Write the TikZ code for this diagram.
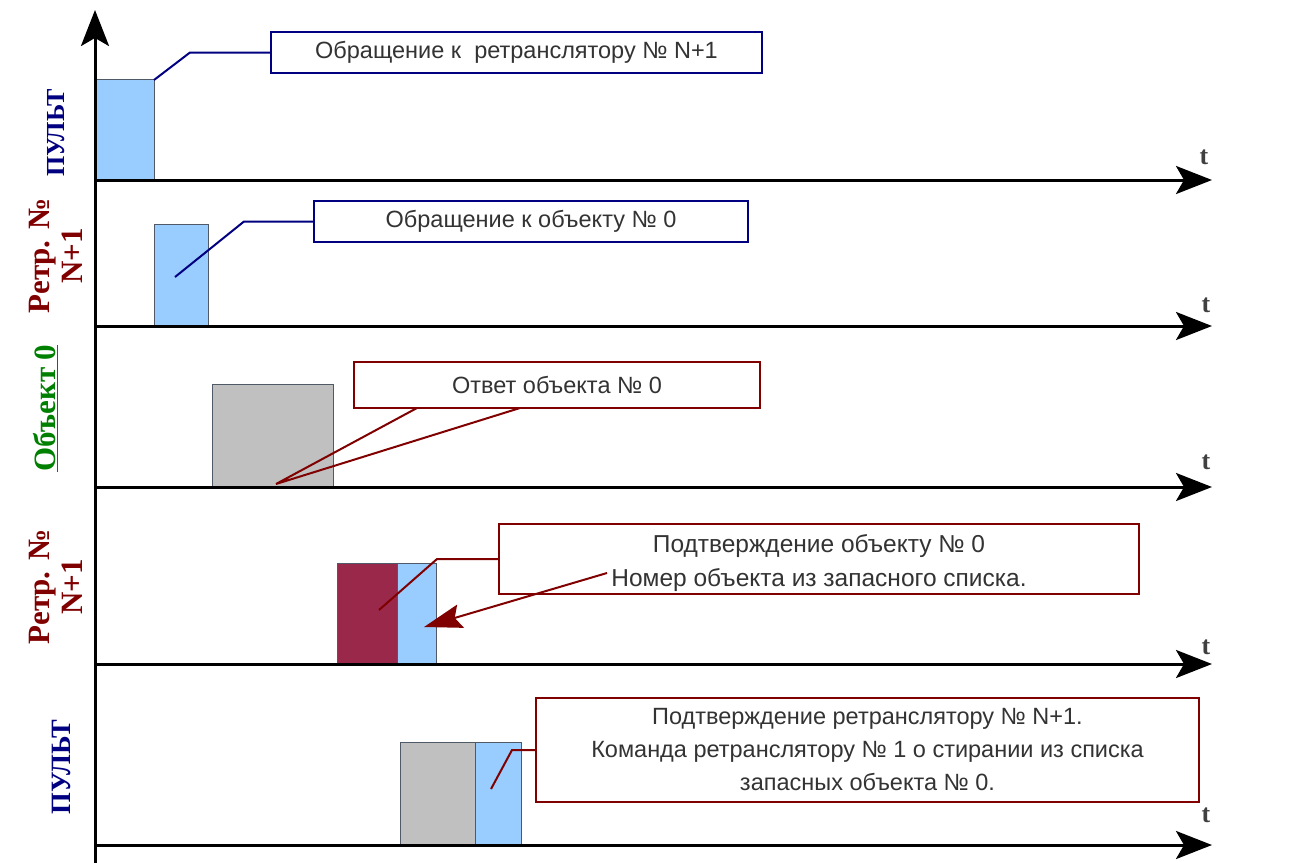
\documentclass[tikz,border=0pt]{standalone}
\usepackage{fontspec}
\setmainfont{Liberation Serif}
\setsansfont{Liberation Sans}
\usetikzlibrary{arrows.meta}
\definecolor{navyc}{HTML}{000080}
\definecolor{dredc}{HTML}{800000}
\definecolor{lbluec}{HTML}{99CCFF}
\definecolor{lgreyc}{HTML}{C0C0C0}
\definecolor{maroonc}{HTML}{99284A}
\definecolor{ogreenc}{HTML}{008000}
\definecolor{txtc}{HTML}{333333}
\definecolor{barline}{HTML}{505A66}
\begin{document}
\begin{tikzpicture}[x=1pt,y=-1pt,
 axis/.style={line width=3pt, -{Stealth[length=36pt,width=28pt,inset=8pt]}},
 bar/.style={draw=barline, line width=1pt, inner sep=0pt, anchor=south west},
 callbox/.style={draw, line width=2pt, fill=white, inner sep=0pt, font=\sffamily\fontsize{23.5}{33}\selectfont, text=txtc, align=center},
 lead/.style={line width=2pt},
 tlab/.style={font=\bfseries\fontsize{26}{26}\selectfont, text=black!75},
 side/.style={font=\bfseries\fontsize{31}{33}\selectfont, rotate=90, align=center},
 sidep/.style={font=\bfseries\fontsize{26}{30}\selectfont, rotate=90, align=center}
]
\useasboundingbox (0,0) rectangle (1305,862);
\fill[white] (0,0) rectangle (1305,862);

% bars
\node[bar, fill=lbluec, minimum width=59pt, minimum height=100pt] (b1) at (95,180) {};
\node[bar, fill=lbluec, minimum width=54pt, minimum height=101pt] (b2) at (154,326) {};
\node[bar, fill=lgreyc, minimum width=121pt, minimum height=102pt] (b3) at (212,487) {};
\node[bar, fill=maroonc, minimum width=60pt, minimum height=100pt] (b4a) at (337,664) {};
\node[bar, fill=lbluec, minimum width=39pt, minimum height=100pt] (b4b) at (397,664) {};
\node[bar, fill=lgreyc, minimum width=75pt, minimum height=102pt] (b5a) at (400,845) {};
\node[bar, fill=lbluec, minimum width=46pt, minimum height=102pt] (b5b) at (475,845) {};

% axes
\coordinate (vs) at (95,870);
\coordinate (ve) at (95,10);
\foreach \n/\y in {1/180,2/326,3/487,4/664,5/845}{
  \coordinate (h\n s) at (95,\y);
  \coordinate (h\n e) at (1212,\y);
}
\draw[axis] (vs) -- (ve);
\foreach \n in {1,...,5}{\draw[axis] (h\n s) -- (h\n e);}

\node[tlab] (t1) at (1204,157) {t};
\node[tlab] (t2) at (1206,305) {t};
\node[tlab] (t3) at (1206,462) {t};
\node[tlab] (t4) at (1206,647) {t};
\node[tlab] (t5) at (1206,815) {t};

% callouts
\node[callbox, draw=navyc, minimum width=491pt, minimum height=41pt] (c1) at (516.5,52.5) {Обращение к~ ретранслятору № N+1};
\coordinate (p1) at (154,80);
\draw[navyc, lead] (c1.west) -- ++(-80,0) -- (p1);

\node[callbox, draw=navyc, minimum width=434pt, minimum height=41pt] (c2) at (531,221.5) {Обращение к объекту № 0};
\coordinate (p2) at (175,277);
\draw[navyc, lead] (c2.west) -- ++(-69,0) -- (p2);

\node[callbox, draw=dredc, minimum width=406pt, minimum height=46pt] (c3) at (557,385) {Ответ объекта № 0};
\coordinate (w1) at (417,408);
\coordinate (w2) at (276,484);
\coordinate (w3) at (520,408);
\draw[dredc, lead, line join=miter] (w1) -- (w2) -- (w3);

\node[callbox, draw=dredc, minimum width=640pt, minimum height=70pt, font=\sffamily\fontsize{24.5}{34}\selectfont] (c4) at (819,559) {\rule{0pt}{26pt}Подтверждение объекту № 0\\Номер объекта из запасного списка.};
\coordinate (p4) at (379,610);
\draw[dredc, lead] (c4.west) -- ++(-61,0) -- (p4);
\coordinate (q4s) at (607,573);
\coordinate (q4e) at (424,627);
\draw[dredc, line width=2pt, -{Stealth[length=38pt,width=24pt,inset=6pt]}] (q4s) -- (q4e);

\node[callbox, draw=dredc, minimum width=663pt, minimum height=104pt] (c5) at (867.5,750) {Подтверждение ретранслятору № N+1.\\Команда ретранслятору № 1 о стирании из списка\\запасных объекта № 0.};
\coordinate (p5) at (491,789);
\draw[dredc, lead] (c5.west) -- ++(-23,0) -- (p5);

% side labels
\node[sidep, text=navyc] (l1) at (56,133) {ПУЛЬТ};
\node[side, text=dredc] (l2) at (56,256) {Ретр. №\\N+1};
\node[side, text=ogreenc] (l3) at (46,408) {\underline{Объект 0}};
\node[side, text=dredc] (l4) at (56,587) {Ретр. №\\N+1};
\node[sidep, text=navyc, font=\bfseries\fontsize{28}{30}\selectfont] (l5) at (61,767) {ПУЛЬТ};
\end{tikzpicture}
\end{document}
